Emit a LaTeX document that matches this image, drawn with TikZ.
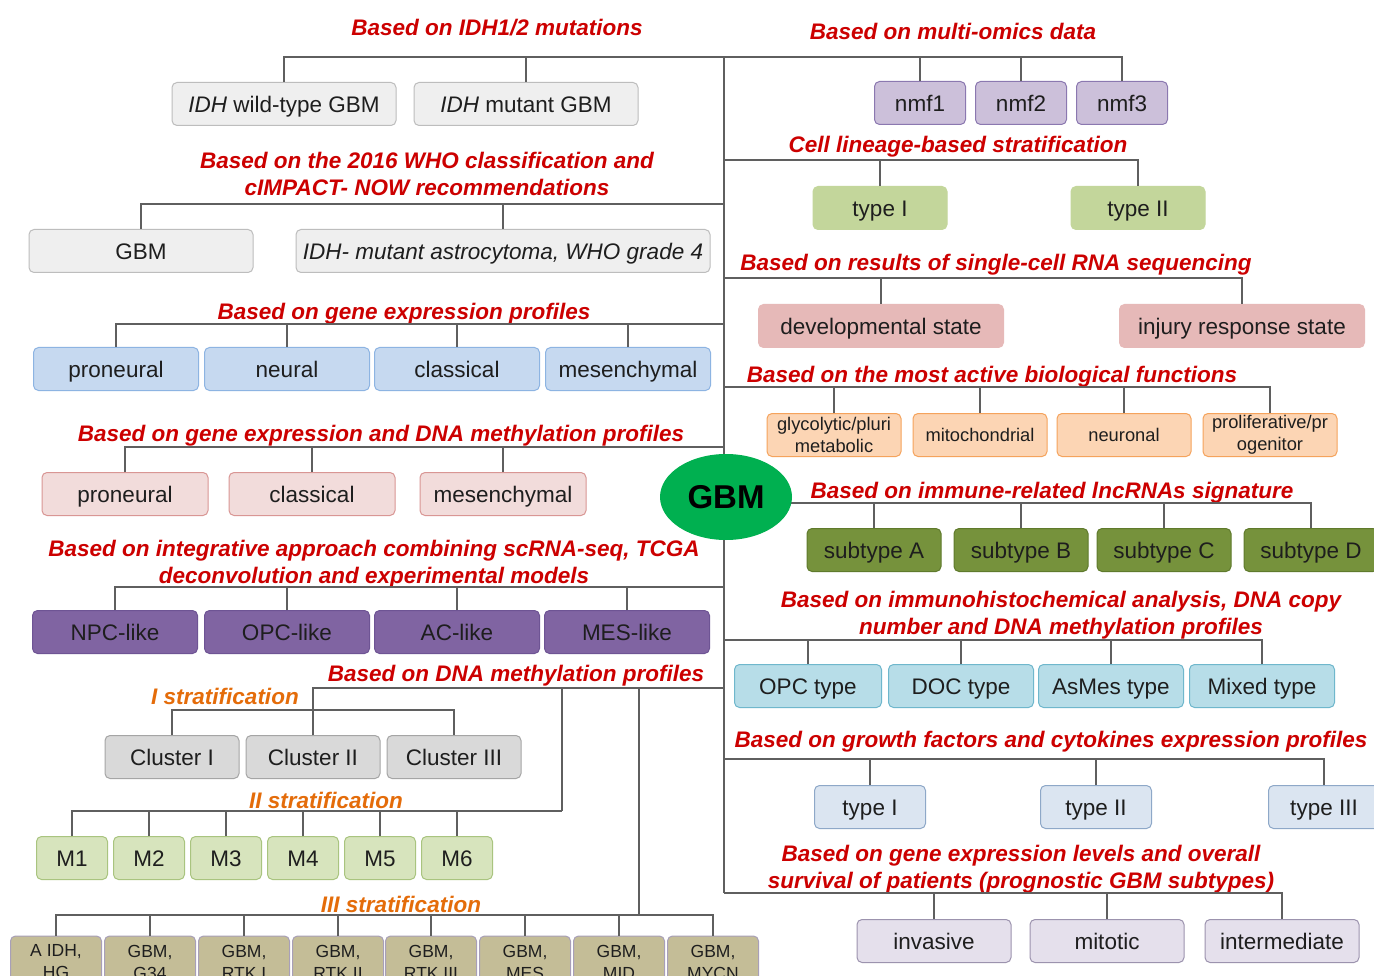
\documentclass[tikz,border=0pt]{standalone}
\usepackage{fontspec}
\setmainfont{Liberation Sans}
\usepackage{tikz}
\usetikzlibrary{shapes.geometric}
\definecolor{ttlred}{HTML}{CC0000}
\definecolor{ttlorange}{HTML}{E46C0A}
\definecolor{ink}{HTML}{1E1E1E}
\definecolor{wire}{HTML}{5F5F5F}
\definecolor{gbmgreen}{HTML}{00B050}
\definecolor{grayfill}{HTML}{EFEFEF}
\definecolor{grayedge}{HTML}{BDBDBD}
\definecolor{gexpfill}{HTML}{C6D9F0}
\definecolor{gexpedge}{HTML}{8DB4E2}
\definecolor{methfill}{HTML}{F2DCDB}
\definecolor{methedge}{HTML}{D99694}
\definecolor{intgfill}{HTML}{8064A2}
\definecolor{intgedge}{HTML}{6E5494}
\definecolor{clusfill}{HTML}{D9D9D9}
\definecolor{clusedge}{HTML}{A5A5A5}
\definecolor{mfill}{HTML}{D7E4BD}
\definecolor{medge}{HTML}{A9C47F}
\definecolor{tanfill}{HTML}{C4BD97}
\definecolor{tanedge}{HTML}{A89FB8}
\definecolor{nmffill}{HTML}{CCC0DA}
\definecolor{nmfedge}{HTML}{8B78B0}
\definecolor{linfill}{HTML}{C3D69B}
\definecolor{scrfill}{HTML}{E6B9B8}
\definecolor{biofill}{HTML}{FCD5B4}
\definecolor{bioedge}{HTML}{F5A35C}
\definecolor{lncfill}{HTML}{76923C}
\definecolor{lncedge}{HTML}{5F7A2C}
\definecolor{ihcfill}{HTML}{B7DDE8}
\definecolor{ihcedge}{HTML}{6FB7CC}
\definecolor{grwfill}{HTML}{DBE5F1}
\definecolor{grwedge}{HTML}{8EA8C8}
\definecolor{prgfill}{HTML}{E5E0EC}
\definecolor{prgedge}{HTML}{9C93AE}
\tikzset{
  lnk/.style={draw=wire, line width=1.2pt},
  ttl/.style={text=ttlred, font=\fontsize{22.5}{27}\selectfont\bfseries\itshape, align=center, inner sep=0pt},
  strat/.style={ttl, text=ttlorange},
  boxbase/.style={rounded corners=5pt, line width=1pt, minimum height=43pt, inner sep=0pt, text=ink},
  box/.style={boxbase, font=\fontsize{22.5}{24}\selectfont, text height=16.1pt, text depth=0pt},
  small/.style={boxbase, font=\fontsize{18.3}{22}\selectfont, align=center},
  gry/.style={box, fill=grayfill, draw=grayedge, minimum width=224pt},
  gexp/.style={box, fill=gexpfill, draw=gexpedge, minimum width=165pt},
  meth/.style={box, fill=methfill, draw=methedge, minimum width=166pt},
  intg/.style={box, fill=intgfill, draw=intgedge, minimum width=165pt},
  clus/.style={box, fill=clusfill, draw=clusedge, minimum width=134pt},
  mbox/.style={box, fill=mfill, draw=medge, minimum width=71pt},
  tan/.style={small, font=\fontsize{17.5}{22}\selectfont, fill=tanfill, draw=tanedge, minimum width=91pt, minimum height=52pt},
  nmf/.style={box, fill=nmffill, draw=nmfedge, minimum width=91pt},
  lin/.style={box, fill=linfill, draw=linfill, minimum width=134pt},
  scr/.style={box, fill=scrfill, draw=scrfill, minimum width=245pt},
  bio/.style={small, fill=biofill, draw=bioedge, minimum width=134pt},
  lnc/.style={box, fill=lncfill, draw=lncedge, minimum width=134pt},
  ihc/.style={box, fill=ihcfill, draw=ihcedge, minimum width=145pt},
  grw/.style={box, fill=grwfill, draw=grwedge, minimum width=111pt},
  prg/.style={box, fill=prgfill, draw=prgedge, minimum width=154pt},
  gbm/.style={ellipse, fill=gbmgreen, minimum width=132pt, minimum height=86pt, inner sep=0pt, text=black, font=\fontsize{33}{33}\selectfont\bfseries}
}

\begin{document}
\begin{tikzpicture}[x=1pt, y=-1pt]
\path[use as bounding box, fill=white] (0,0) rectangle (1374,976);

% titles, left
\node[ttl] (t1) at (497,28) {Based on IDH1/2 mutations};
\node[ttl] (t2) at (427,174) {Based on the 2016 WHO classification and\\cIMPACT- NOW recommendations};
\node[ttl] (t3) at (404,314) {Based on gene expression profiles};
\node[ttl] (t4) at (381,436) {Based on gene expression and DNA methylation profiles};
\node[ttl] (t5) at (374,564) {Based on integrative approach combining scRNA-seq, TCGA\\deconvolution and experimental models};
\node[ttl] (t6) at (516,676) {Based on DNA methylation profiles};
\node[strat] (s1) at (225,696) {I stratification};
\node[strat] (s2) at (326,800) {II stratification};
\node[strat] (s3) at (401,904) {III stratification};

% titles, right
\node[ttl] (r1) at (953,31) {Based on multi-omics data};
\node[ttl] (r2) at (958,147) {Cell lineage-based stratification};
\node[ttl] (r3) at (996,265) {Based on results of single-cell RNA sequencing};
\node[ttl] (r4) at (992,377) {Based on the most active biological functions};
\node[ttl] (r5) at (1052,493) {Based on immune-related lncRNAs signature};
\node[ttl] (r6) at (1061,615) {Based on immunohistochemical analysis, DNA copy\\number and DNA methylation profiles};
\node[ttl] (r7) at (1051,742) {Based on growth factors and cytokines expression profiles};
\node[ttl] (r8) at (1021,869) {Based on gene expression levels and overall\\survival of patients (prognostic GBM subtypes)};

% boxes, left
\node[gry] (idhwt) at (284,104) {\textit{IDH} wild-type GBM};
\node[gry] (idhmut) at (526,104) {\textit{IDH} mutant GBM};
\node[gry] (who1) at (141,251) {GBM};
\node[gry, minimum width=414pt] (who2) at (503,251) {\textit{IDH- mutant astrocytoma, WHO grade 4}};
\node[gexp] (ge1) at (116,369) {proneural};
\node[gexp] (ge2) at (287,369) {neural};
\node[gexp] (ge3) at (457,369) {classical};
\node[gexp] (ge4) at (628,369) {mesenchymal};
\node[meth] (dm1) at (125,494) {proneural};
\node[meth] (dm2) at (312,494) {classical};
\node[meth] (dm3) at (503,494) {mesenchymal};
\node[intg] (ia1) at (115,632) {NPC-like};
\node[intg] (ia2) at (287,632) {OPC-like};
\node[intg] (ia3) at (457,632) {AC-like};
\node[intg] (ia4) at (627,632) {MES-like};
\node[clus] (cl1) at (172,757) {Cluster I};
\node[clus] (cl2) at (313,757) {Cluster II};
\node[clus] (cl3) at (454,757) {Cluster III};
\node[mbox] (m1) at (72,858) {M1};
\node[mbox] (m2) at (149,858) {M2};
\node[mbox] (m3) at (226,858) {M3};
\node[mbox] (m4) at (303,858) {M4};
\node[mbox] (m5) at (380,858) {M5};
\node[mbox] (m6) at (457,858) {M6};
\node[tan] (g1) at (56,962) {A IDH,\\HG};
\node[tan] (g2) at (150,962) {GBM,\\G34};
\node[tan] (g3) at (244,962) {GBM,\\RTK I};
\node[tan] (g4) at (338,962) {GBM,\\RTK II};
\node[tan] (g5) at (431,962) {GBM,\\RTK III};
\node[tan] (g6) at (525,962) {GBM,\\MES};
\node[tan] (g7) at (619,962) {GBM,\\MID};
\node[tan] (g8) at (713,962) {GBM,\\MYCN};

% boxes, right
\node[nmf] (n1) at (920,103) {nmf1};
\node[nmf] (n2) at (1021,103) {nmf2};
\node[nmf] (n3) at (1122,103) {nmf3};
\node[lin] (ln1) at (880,208) {type I};
\node[lin] (ln2) at (1138,208) {type II};
\node[scr] (sc1) at (881,326) {developmental state};
\node[scr] (sc2) at (1242,326) {injury response state};
\node[bio] (bf1) at (834,435) {glycolytic/pluri\\metabolic};
\node[bio] (bf2) at (980,435) {mitochondrial};
\node[bio] (bf3) at (1124,435) {neuronal};
\node[bio] (bf4) at (1270,435) {proliferative/pr\\ogenitor};
\node[lnc] (lc1) at (874,550) {subtype A};
\node[lnc] (lc2) at (1021,550) {subtype B};
\node[lnc] (lc3) at (1164,550) {subtype C};
\node[lnc] (lc4) at (1311,550) {subtype D};
\node[ihc, minimum width=147pt] (ih1) at (808,686) {OPC type};
\node[ihc] (ih2) at (961,686) {DOC type};
\node[ihc] (ih3) at (1111,686) {AsMes type};
\node[ihc] (ih4) at (1262,686) {Mixed type};
\node[grw] (gf1) at (870,807) {type I};
\node[grw] (gf2) at (1096,807) {type II};
\node[grw] (gf3) at (1324,807) {type III};
\node[prg] (pg1) at (934,941) {invasive};
\node[prg] (pg2) at (1107,941) {mitotic};
\node[prg] (pg3) at (1282,941) {intermediate};

% trunk and buses
\coordinate (top) at (724,57);
\coordinate (bot) at (724,893);
\draw[lnk] (top) -- (bot);
\coordinate (jwho) at (724,204);
\coordinate (jge) at (724,324);
\coordinate (jdm) at (724,447);
\coordinate (jia) at (724,587);
\coordinate (jme) at (724,688);
\coordinate (jln) at (724,160);
\coordinate (jsc) at (724,278);
\coordinate (jbf) at (724,387);
\coordinate (jlc) at (724,503);
\coordinate (jih) at (724,640);
\coordinate (jgf) at (724,759);
\draw[lnk] (idhwt.north) |- (top) (idhmut.north) |- (top)
  (n1.north) |- (top) (n2.north) |- (top) (n3.north) |- (top);
\draw[lnk] (who1.north) |- (jwho) (who2.north) |- (jwho);
\draw[lnk] (ge1.north) |- (jge) (ge2.north) |- (jge) (ge3.north) |- (jge) (ge4.north) |- (jge);
\draw[lnk] (dm1.north) |- (jdm) (dm2.north) |- (jdm) (dm3.north) |- (jdm);
\draw[lnk] (ia1.north) |- (jia) (ia2.north) |- (jia) (ia3.north) |- (jia) (ia4.north) |- (jia);
\draw[lnk] (ln1.north) |- (jln) (ln2.north) |- (jln);
\draw[lnk] (sc1.north) |- (jsc) (sc2.north) |- (jsc);
\draw[lnk] (bf1.north) |- (jbf) (bf2.north) |- (jbf) (bf3.north) |- (jbf) (bf4.north) |- (jbf);
\draw[lnk] (lc1.north) |- (jlc) (lc2.north) |- (jlc) (lc3.north) |- (jlc) (lc4.north) |- (jlc);
\draw[lnk] (ih1.north) |- (jih) (ih2.north) |- (jih) (ih3.north) |- (jih) (ih4.north) |- (jih);
\draw[lnk] (gf1.north) |- (jgf) (gf2.north) |- (jgf) (gf3.north) |- (jgf);
\draw[lnk] (pg1.north) |- (bot) (pg2.north) |- (bot) (pg3.north) |- (bot);

% DNA methylation, three stratifications
\coordinate (cbus) at (454,710);
\coordinate (mj) at (562,688);
\coordinate (mb) at (562,811);
\coordinate (gj) at (639,688);
\coordinate (gb) at (639,915);
\draw[lnk] (cl2.north) |- (jme);
\draw[lnk] (cl1.north) |- (cbus) -- (cl3.north);
\draw[lnk] (mj) -- (mb);
\draw[lnk] (m1.north) |- (mb) (m2.north) |- (mb) (m3.north) |- (mb)
  (m4.north) |- (mb) (m5.north) |- (mb) (m6.north) |- (mb);
\draw[lnk] (gj) -- (gb);
\draw[lnk] (g1.north) |- (gb) (g2.north) |- (gb) (g3.north) |- (gb) (g4.north) |- (gb)
  (g5.north) |- (gb) (g6.north) |- (gb) (g7.north) |- (gb) (g8.north) |- (gb);

% centre
\node[gbm] (gbm) at (726,497) {GBM};
\end{tikzpicture}
\end{document}
